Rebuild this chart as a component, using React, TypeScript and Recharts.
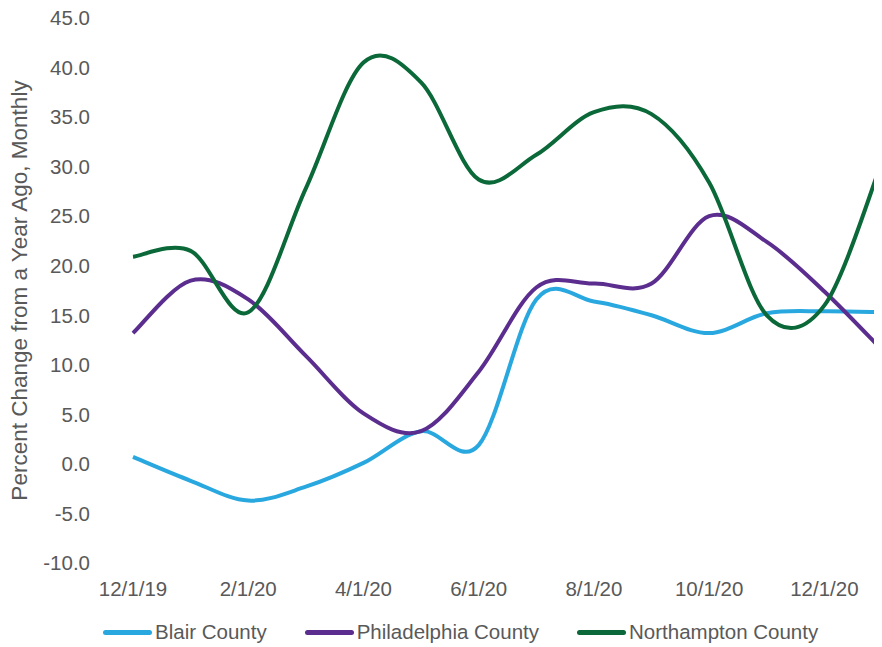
import React from 'react';
import { LineChart, Line, XAxis, YAxis, Legend } from 'recharts';

// Monthly observations, Dec 2019 through Jan 2021
const months = [
  '12/1/19', '1/1/20', '2/1/20', '3/1/20', '4/1/20', '5/1/20', '6/1/20',
  '7/1/20', '8/1/20', '9/1/20', '10/1/20', '11/1/20', '12/1/20', '1/1/21',
];

const blairCounty = [0.7, -1.7, -3.7, -2.3, 0.1, 3.3, 1.9, 16.6, 16.4, 15.0, 13.2, 15.2, 15.4, 15.3];
const philadelphiaCounty = [13.2, 18.5, 16.6, 10.9, 5.1, 3.3, 9.3, 17.8, 18.2, 18.2, 25.0, 22.4, 17.4, 11.5];
const northamptonCounty = [20.9, 21.5, 15.3, 27.8, 40.5, 38.5, 28.7, 31.2, 35.5, 35.3, 28.4, 15.0, 16.0, 30.5];

const yTicks = [-10, -5, 0, 5, 10, 15, 20, 25, 30, 35, 40, 45];

const series = [
  { key: 'blair', name: 'Blair County', color: '#29a8e0' },
  { key: 'philadelphia', name: 'Philadelphia County', color: '#5b2d8e' },
  { key: 'northampton', name: 'Northampton County', color: '#0b6838' },
];

const data = months.map((month, i) => ({
  month,
  blair: blairCounty[i],
  philadelphia: philadelphiaCounty[i],
  northampton: northamptonCounty[i],
}));

const TEXT_COLOR = '#595959';
const FONT = 'Liberation Sans, Arial, Helvetica, sans-serif';

// Smoothed line: uniform Catmull-Rom segments expressed as cubic Beziers
const smoothCurve = (context: any) => {
  let pts: [number, number][] = [];
  return {
    areaStart() {},
    areaEnd() {},
    lineStart() {
      pts = [];
    },
    point(x: number, y: number) {
      pts.push([+x, +y]);
    },
    lineEnd() {
      const n = pts.length;
      if (!n) return;
      context.moveTo(pts[0][0], pts[0][1]);
      for (let i = 0; i < n - 1; i++) {
        const p0 = pts[Math.max(i - 1, 0)];
        const p1 = pts[i];
        const p2 = pts[i + 1];
        const p3 = pts[Math.min(i + 2, n - 1)];
        context.bezierCurveTo(
          p1[0] + (p2[0] - p0[0]) / 6,
          p1[1] + (p2[1] - p0[1]) / 6,
          p2[0] - (p3[0] - p1[0]) / 6,
          p2[1] - (p3[1] - p1[1]) / 6,
          p2[0],
          p2[1],
        );
      }
    },
  };
};

const AxisTitle = (props: any) => {
  const vb = props.viewBox || { x: 0, y: 0, width: 0, height: 0 };
  const cx = vb.x + 11;
  const cy = vb.y + vb.height / 2;
  return (
    <text
      x={cx}
      y={cy}
      transform={`rotate(-90, ${cx}, ${cy})`}
      textAnchor="middle"
      dominantBaseline="central"
      fill={TEXT_COLOR}
      fontSize={22.5}
      fontFamily={FONT}
    >
      Percent Change from a Year Ago, Monthly
    </text>
  );
};

const LegendContent = () => (
  <div
    style={{
      display: 'flex',
      alignItems: 'center',
      height: 30,
      paddingLeft: 95,
      fontFamily: FONT,
      fontSize: 20.5,
      color: TEXT_COLOR,
      whiteSpace: 'nowrap',
    }}
  >
    {series.map((s) => (
      <div key={s.key} style={{ display: 'flex', alignItems: 'center', marginRight: 38 }}>
        <span
          style={{
            display: 'inline-block',
            width: 49,
            height: 5,
            borderRadius: 3,
            background: s.color,
            marginRight: 3,
          }}
        />
        <span>{s.name}</span>
      </div>
    ))}
  </div>
);

export default function App() {
  return (
    <div style={{ width: 874, height: 639 }}>
      <style>{'.recharts-surface { overflow: visible; }'}</style>
      <LineChart
        width={874}
        height={639}
        data={data}
        margin={{ top: 10, right: 0, bottom: 0, left: 0 }}
      >
        <XAxis
          dataKey="month"
          interval={1}
          axisLine={false}
          tickLine={false}
          tickMargin={12}
          height={54}
          tick={{ fill: TEXT_COLOR, fontSize: 20.5, fontFamily: FONT }}
        />
        <YAxis
          width={125}
          domain={[-10, 45]}
          ticks={yTicks}
          interval={0}
          axisLine={false}
          tickLine={false}
          tickMargin={37}
          tickFormatter={(v: number) => v.toFixed(1)}
          tick={{ fill: TEXT_COLOR, fontSize: 20.5, fontFamily: FONT }}
          label={<AxisTitle />}
        />
        <Legend verticalAlign="bottom" align="left" height={30} content={<LegendContent />} />
        {series.map((s) => (
          <Line
            key={s.key}
            dataKey={s.key}
            name={s.name}
            type={smoothCurve as any}
            stroke={s.color}
            strokeWidth={4}
            dot={false}
            activeDot={false}
            isAnimationActive={false}
          />
        ))}
      </LineChart>
    </div>
  );
}
